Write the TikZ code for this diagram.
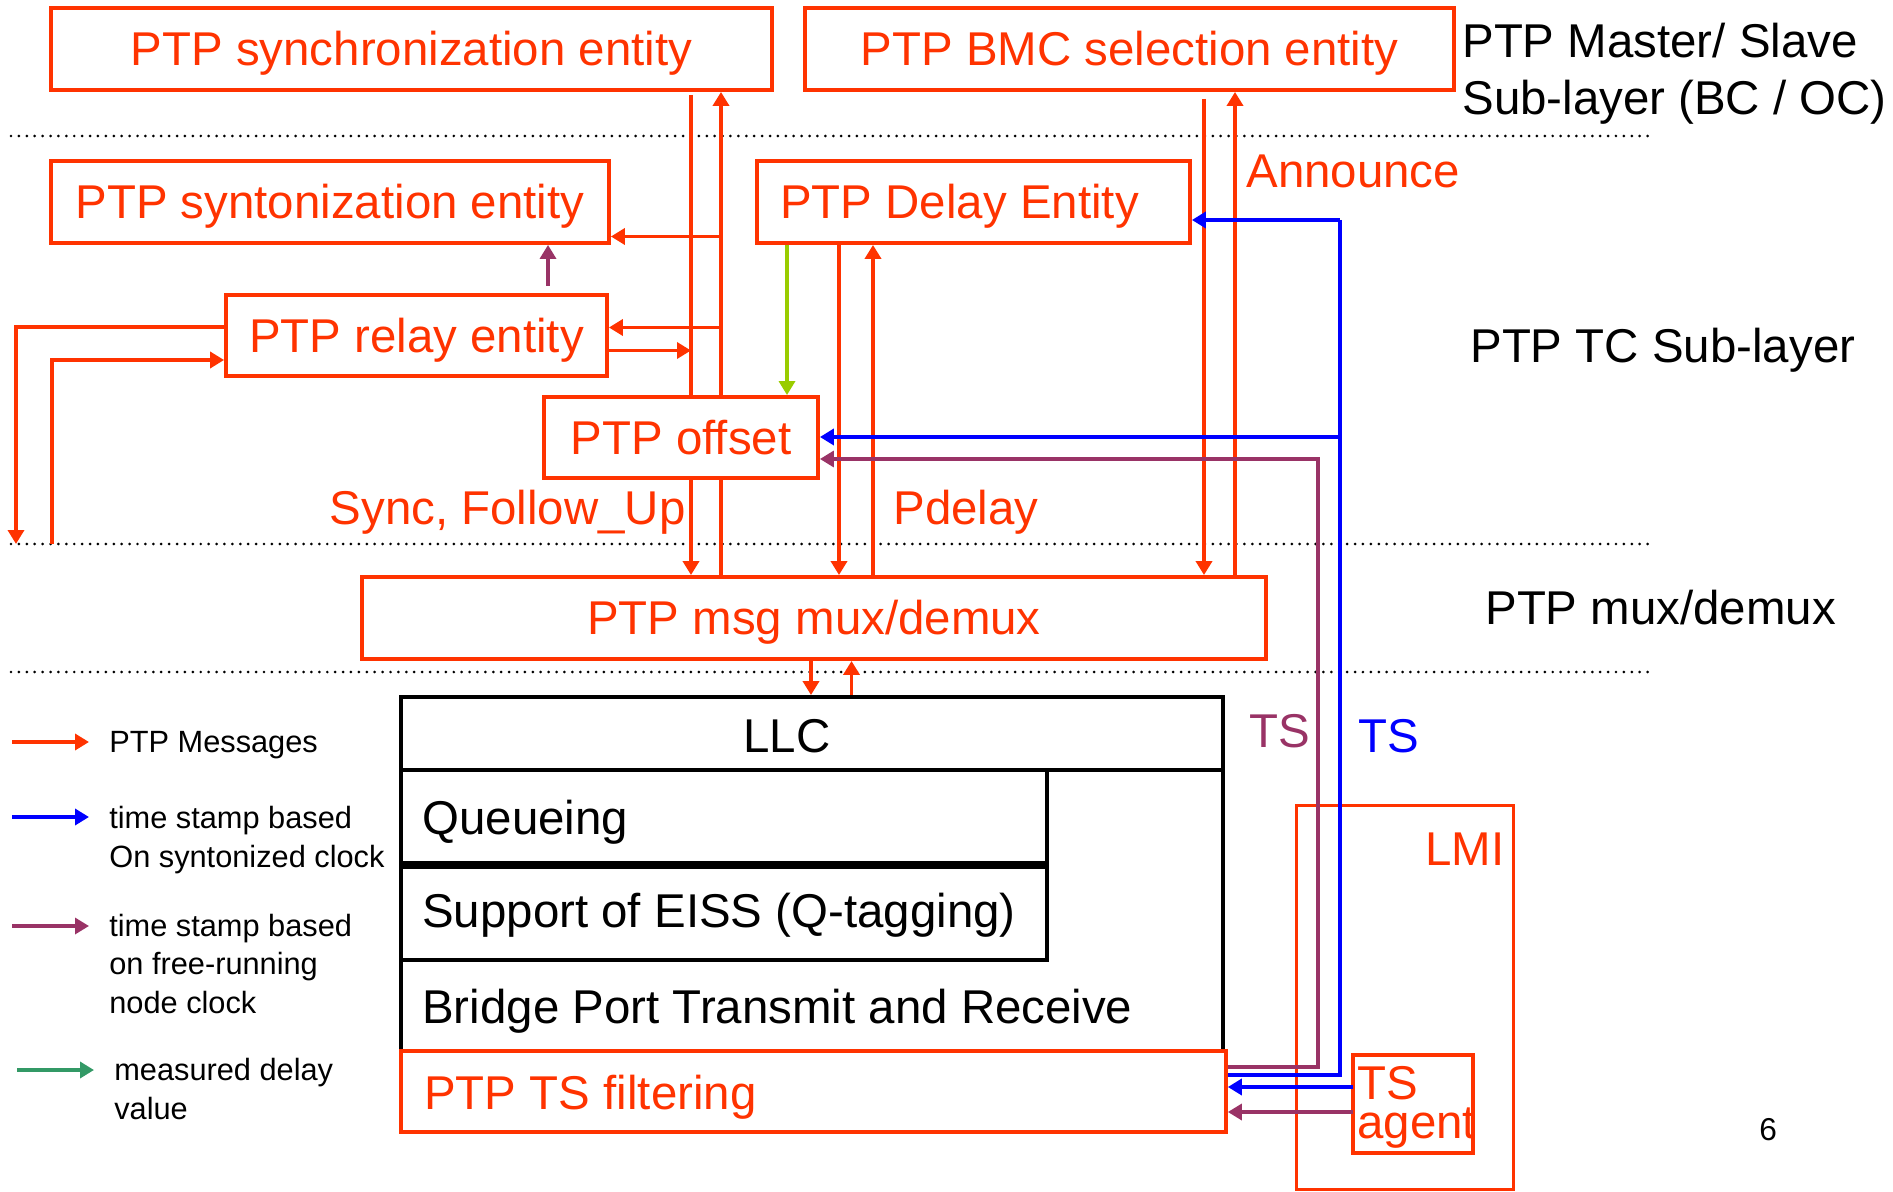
\documentclass[tikz,border=0pt]{standalone}
\usepackage{fontspec}
\setmainfont{Liberation Sans}
\usetikzlibrary{arrows.meta}
\definecolor{ptpred}{RGB}{255,51,0}
\definecolor{tsblue}{RGB}{0,0,255}
\definecolor{tspurple}{RGB}{153,51,102}
\definecolor{dlygreen}{RGB}{153,204,0}
\definecolor{lggreen}{RGB}{51,153,102}

\begin{document}
\begin{tikzpicture}[x=0.02cm, y=-0.02cm,
    >={Triangle[length=0.28cm,width=0.32cm]},
    entity/.style={draw=ptpred, line width=2.2pt, fill=white, text=ptpred,
      font=\fontsize{27}{32.6}\selectfont, inner sep=0pt, text height=19.3pt, text depth=0pt},
    stack/.style={draw=black, line width=2.2pt, fill=white, inner sep=0pt},
    big/.style={font=\fontsize{27}{32.6}\selectfont, inner sep=0pt, align=left},
    small/.style={font=\fontsize{17.5}{21.8}\selectfont, inner sep=0pt, align=left},
    msg/.style={ptpred, line width=2.1pt},
    tsb/.style={tsblue, line width=2.2pt},
    tsp/.style={tspurple, line width=1.9pt},
    layer/.style={black, line width=1.7pt, line cap=round, dash pattern=on 0pt off 4.5pt}]
  \useasboundingbox (0,0) rectangle (1893,1192);

  % sub-layer borders
  \draw[layer] (11,136) -- (1652,136);
  \draw[layer] (11,544) -- (1652,544);
  \draw[layer] (11,672) -- (1652,672);

  \node[big, anchor=base west] (mslabel) at (1462,115) {PTP Master/ Slave\\Sub-layer (BC / OC)};
  \node[big, anchor=base west] (tclabel) at (1470,363) {PTP TC Sub-layer};
  \node[big, anchor=base west] (muxlabel) at (1485,624) {PTP mux/demux};

  % PTP entities
  \node[entity, minimum width=14.42cm, minimum height=1.64cm] (sync) at (411.5,49) {PTP synchronization entity};
  \node[entity, minimum width=12.98cm, minimum height=1.64cm] (bmc) at (1129.5,49) {PTP BMC selection entity};
  \node[entity, minimum width=11.16cm, minimum height=1.64cm] (synt) at (330,202) {PTP syntonization entity};
  \node[entity, minimum width=8.66cm, minimum height=1.64cm] (delay) at (973.5,202) {PTP Delay Entity\kern0.56cm};
  \node[entity, minimum width=7.62cm, minimum height=1.62cm] (relay) at (416.5,335.5) {PTP relay entity};
  \node[entity, minimum width=18.08cm, minimum height=1.64cm] (mux) at (814,618) {PTP msg mux/demux};

  \coordinate (syncdn) at (691,95);
  \coordinate (syncup) at (721,0);
  \coordinate (dlydn) at (839,0);
  \coordinate (dlyup) at (873,0);
  \coordinate (bmcdn) at (1204,99);
  \coordinate (bmcup) at (1235,0);
  \draw[msg,->] (syncdn) -- (syncdn |- mux.north);
  \draw[msg,->] (mux.north -| syncup) -- (sync.south -| syncup);
  \draw[msg,->] (delay.south -| dlydn) -- (mux.north -| dlydn);
  \draw[msg,->] (mux.north -| dlyup) -- (delay.south -| dlyup);
  \draw[msg,->] (bmcdn) -- (bmcdn |- mux.north);
  \draw[msg,->] (mux.north -| bmcup) -- (bmc.south -| bmcup);

  \node[entity, minimum width=5.48cm, minimum height=1.62cm] (offset) at (681,437.5) {PTP offset};

  % relay and syntonization
  \coordinate (syntin) at (721,236.5);
  \coordinate (relayin) at (721,327.5);
  \coordinate (relayout) at (691,350.5);
  \coordinate (relaytop) at (548,286);
  \draw[msg,->] (syntin) -- (syntin -| synt.east);
  \draw[msg,->] (relayin) -- (relayin -| relay.east);
  \draw[msg,->] (relayout -| relay.east) -- (relayout);
  \draw[tsp,->] (relaytop) -- (relaytop |- synt.south);
  \coordinate (loopa) at (16,327);
  \coordinate (loopb) at (16,544);
  \coordinate (loopc) at (52,544);
  \coordinate (loopd) at (52,360);
  \draw[msg,->] (loopa -| relay.west) -- (loopa) -- (loopb);
  \draw[msg,->] (loopc) -- (loopd) -- (loopd -| relay.west);
  \coordinate (dlyoff) at (787,0);
  \draw[dlygreen, line width=1.9pt, ->] (delay.south -| dlyoff) -- (offset.north -| dlyoff);

  \node[big, text=ptpred, anchor=base east] (synclabel) at (686,524) {Sync, Follow\_Up};
  \node[big, text=ptpred, anchor=base west] (pdlabel) at (893,524) {Pdelay};
  \node[big, text=ptpred, anchor=base west] (anlabel) at (1246,188) {Announce};

  % bridge port stack
  \node[stack, minimum width=16.44cm, minimum height=7.08cm] (port) at (812,874) {};
  \node[stack, minimum width=16.44cm, minimum height=1.46cm] (llc) at (812,733.5) {};
  \node[stack, minimum width=12.92cm, minimum height=1.86cm] (queue) at (724,816.5) {};
  \node[stack, minimum width=12.92cm, minimum height=1.86cm] (eiss) at (724,913.5) {};
  \node[entity, minimum width=16.5cm, minimum height=1.62cm] (tsfilt) at (813.5,1091.5) {};
  \node[big, anchor=base] (llctext) at (787,752) {LLC};
  \node[big, anchor=base west] (queuetext) at (422,834) {Queueing};
  \node[big, anchor=base west] (eisstext) at (422,927) {Support of EISS (Q-tagging)};
  \node[big, anchor=base west] (bridgetext) at (422,1023) {Bridge Port Transmit and Receive};
  \node[big, text=ptpred, anchor=base west] (tsfilttext) at (424,1109) {PTP TS filtering};
  \coordinate (muxdn) at (811,0);
  \coordinate (muxup) at (851.5,0);
  \draw[msg,->] (mux.south -| muxdn) -- (llc.north -| muxdn);
  \draw[msg,->] (llc.north -| muxup) -- (mux.south -| muxup);

  % LMI and time stamps
  \node[entity, fill=none, line width=1.7pt, minimum width=4.34cm, minimum height=7.7cm] (lmi) at (1405,997.5) {};
  \node[big, text=ptpred, anchor=base east] (lmitext) at (1505,865) {LMI};
  \node[entity, fill=none, minimum width=2.4cm, minimum height=1.96cm] (agent) at (1413,1104) {};
  \node[big, text=ptpred, anchor=base west, font=\fontsize{27}{22}\selectfont] (agenttext) at (1357,1138) {TS\\agent};
  \node[big, text=tspurple, anchor=base west] (tsplabel) at (1249,747) {TS};
  \node[big, text=tsblue, anchor=base west] (tsblabel) at (1358,752) {TS};

  \coordinate (tsbtop) at (1340,220);
  \coordinate (tsbbot) at (1340,1075);
  \coordinate (tsboff) at (1340,437);
  \coordinate (tsptop) at (1318,459);
  \coordinate (tspbot) at (1318,1067);
  \draw[tsb,->] (tsbtop) -- (tsbtop -| delay.east);
  \draw[tsb] (tsbtop) -- (tsbbot) -- (tsbbot -| tsfilt.east);
  \draw[tsb,->] (tsboff) -- (tsboff -| offset.east);
  \draw[tsp,->] (tspbot -| tsfilt.east) -- (tspbot) -- (tsptop) -- (tsptop -| offset.east);
  \coordinate (agb) at (1353,1087);
  \coordinate (agp) at (1353,1112);
  \draw[tsb,->] (agb) -- (agb -| tsfilt.east);
  \draw[tsp,->] (agp) -- (agp -| tsfilt.east);

  \node[font=\fontsize{18}{21}\selectfont, inner sep=0pt, anchor=base west] (pagenum) at (1759,1140) {6};

  % legend
  \coordinate (lg1a) at (12,742);
  \coordinate (lg1b) at (89,742);
  \coordinate (lg2a) at (12,817);
  \coordinate (lg2b) at (89,817);
  \coordinate (lg3a) at (12,926);
  \coordinate (lg3b) at (89,926);
  \coordinate (lg4a) at (17,1070);
  \coordinate (lg4b) at (94,1070);
  \draw[msg,->] (lg1a) -- (lg1b);
  \draw[tsb,->] (lg2a) -- (lg2b);
  \draw[tsp,->] (lg3a) -- (lg3b);
  \draw[lggreen, line width=2.1pt, ->] (lg4a) -- (lg4b);
  \node[small, anchor=base west] (lgmsg) at (109,752) {PTP Messages};
  \node[small, anchor=base west] (lgsynt) at (109,867) {time stamp based\\On syntonized clock};
  \node[small, anchor=base west] (lgfree) at (109,1013) {time stamp based\\on free-running\\node clock};
  \node[small, anchor=base west] (lgdelay) at (114,1119) {measured delay\\value};
\end{tikzpicture}
\end{document}
